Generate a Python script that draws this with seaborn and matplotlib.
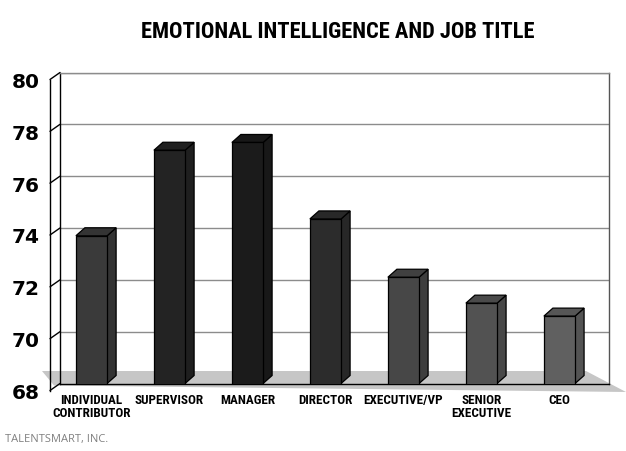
"""Emotional intelligence by job title, pseudo-3D bar chart."""
import matplotlib
matplotlib.use("Agg")

import pandas as pd
import seaborn as sns
import matplotlib.pyplot as plt
from matplotlib import font_manager, transforms
from matplotlib.colors import to_rgb
from matplotlib.lines import Line2D
from matplotlib.patches import Polygon

job_titles = [
    "INDIVIDUAL\nCONTRIBUTOR", "SUPERVISOR", "MANAGER", "DIRECTOR",
    "EXECUTIVE/VP", "SENIOR\nEXECUTIVE", "CEO",
]
ei_scores = [73.7, 77.0, 77.3, 74.35, 72.1, 71.1, 70.6]
bar_colors = ["#3a3a3a", "#232323", "#1b1b1b", "#2c2c2c", "#474747", "#525252", "#606060"]
y_ticks = [68, 70, 72, 74, 76, 78, 80]

W, H = 626, 452
L, R, T, B = 60, 609, 73.5, 384.5   # back wall in pixels
DEPTH = (9, 8)                       # bar depth offset, px
WALL = (10, 7)                       # front axis offset from back wall, px

sns.set_theme(style="white")
plt.rcParams["font.family"] = ["DejaVu Sans"]


def pick_narrow():
    ttf = font_manager.fontManager.ttflist
    names = {f.name for f in ttf}
    for n in ["Liberation Sans Narrow", "Arial Narrow", "Roboto Condensed",
              "Open Sans Condensed", "DejaVu Sans Condensed"]:
        if n in names:
            return [n, "DejaVu Sans"], "normal"
    if any(f.name == "DejaVu Sans" and "condensed" in str(f.stretch) for f in ttf):
        return ["DejaVu Sans"], "condensed"
    return ["Roboto", "DejaVu Sans"], "normal"


NARROW, STRETCH = pick_narrow()


def shade(c, f):
    r, g, b = to_rgb(c)
    return (r * f, g * f, b * f)


def fig_px(x, y):
    return (x / W, 1 - y / H)


fig = plt.figure(figsize=(W / 100, H / 100), dpi=100)
fig.patch.set_facecolor("white")
ax = fig.add_axes([L / W, 1 - B / H, (R - L) / W, (B - T) / H])

df = pd.DataFrame({"title": job_titles, "score": ei_scores})
sns.barplot(
    data=df, x="title", y="score", hue="title", palette=bar_colors,
    legend=False, width=0.40, saturation=1, edgecolor="black",
    linewidth=0.9, ax=ax, zorder=3,
)
bars = list(ax.patches)

xlim = (-0.404, 6.635)
ax.set_xlim(*xlim)
ax.set_ylim(68, 80)
ax.set_xlabel("")
ax.set_ylabel("")
ax.set_facecolor("white")
ax.set_yticks(y_ticks)
ax.tick_params(axis="y", left=False, labelleft=False)
ax.yaxis.grid(True, color="#8c8c8c", lw=1)
ax.set_axisbelow(True)
ax.tick_params(axis="x", length=0, pad=6.5)
xlabels = ax.get_xticklabels()
for lbl in xlabels:
    lbl.set_fontfamily(NARROW)
    lbl.set_fontstretch(STRETCH)
    lbl.set_fontweight("heavy")
    lbl.set_fontsize(10)
    lbl.set_linespacing(1.0)
    lbl.set_color("black")
for side, col in [("left", "black"), ("bottom", "black"), ("right", "#555555"), ("top", "#8c8c8c")]:
    ax.spines[side].set_visible(True)
    ax.spines[side].set_color(col)
    ax.spines[side].set_linewidth(1)

# floor
floor = Polygon(
    [fig_px(42, 372), fig_px(586, 372), fig_px(626, 393), fig_px(54, 386.5)],
    closed=True, facecolor="#c6c6c6", edgecolor="none",
    transform=fig.transFigure, clip_on=False, zorder=1,
)
ax.add_patch(floor)

# 3D side and top faces of each bar
dx = DEPTH[0] * (xlim[1] - xlim[0]) / (R - L)
dy = DEPTH[1] * 12 / (B - T)
for bar, col in zip(bars, bar_colors):
    x0 = bar.get_x()
    x1 = x0 + bar.get_width()
    v = bar.get_height()
    side_face = Polygon(
        [(x1, 68), (x1, v), (x1 + dx, v + dy), (x1 + dx, 68 + dy)],
        closed=True, facecolor=shade(col, 0.88), edgecolor="black",
        lw=0.9, zorder=2.9, clip_on=False,
    )
    top_face = Polygon(
        [(x0, v), (x1, v), (x1 + dx, v + dy), (x0 + dx, v + dy)],
        closed=True, facecolor=shade(col, 0.9), edgecolor="black",
        lw=0.9, zorder=2.9, clip_on=False,
    )
    ax.add_patch(side_face)
    ax.add_patch(top_face)

# front axis with tick labels
axf = fig.add_axes([(L - WALL[0]) / W, 1 - (B + WALL[1]) / H, (R - L) / W, (B - T) / H])
axf.patch.set_visible(False)
axf.set_ylim(68, 80)
axf.set_xlim(0, 1)
axf.set_xticks([])
axf.set_yticks(y_ticks)
for side in ["top", "right", "bottom"]:
    axf.spines[side].set_visible(False)
axf.spines["left"].set_color("black")
axf.spines["left"].set_linewidth(1)
axf.tick_params(axis="y", length=5, width=1, pad=2.5, labelsize=14.5, color="black")
for lbl in axf.get_yticklabels():
    lbl.set_fontweight("bold")
    lbl.set_color("black")

# connectors from front ticks to back wall
to_fig = fig.transFigure.inverted()
tr_front = transforms.blended_transform_factory(axf.transAxes, axf.transData)
tr_back = transforms.blended_transform_factory(ax.transAxes, ax.transData)
for v in y_ticks:
    p0 = to_fig.transform(tr_front.transform((0, v)))
    p1 = to_fig.transform(tr_back.transform((0, v)))
    fig.add_artist(Line2D([p0[0], p1[0]], [p0[1], p1[1]], color="black",
                          lw=1, transform=fig.transFigure))

title = fig.text(338 / W, 1 - 31.5 / H, "EMOTIONAL INTELLIGENCE AND JOB TITLE",
                 ha="center", va="center", fontsize=17, fontweight="heavy",
                 family=NARROW, fontstretch=STRETCH, color="black")
fig.text(5 / W, 1 - 440 / H, "TALENTSMART, INC.", ha="left", va="center",
         fontsize=8, family=["Open Sans", "DejaVu Sans"], color="#808080")

# shrink the condensed-style texts to the widths seen in the reference
fig.canvas.draw()
rend = fig.canvas.get_renderer()
tw = title.get_window_extent(rend).width
if tw > 395:
    title.set_fontsize(17 * 395 / tw)
sup = xlabels[job_titles.index("SUPERVISOR")]
sw = sup.get_window_extent(rend).width
if sw > 69:
    for lbl in xlabels:
        lbl.set_fontsize(10 * 69 / sw)

fig.savefig("out.png", dpi=100)
